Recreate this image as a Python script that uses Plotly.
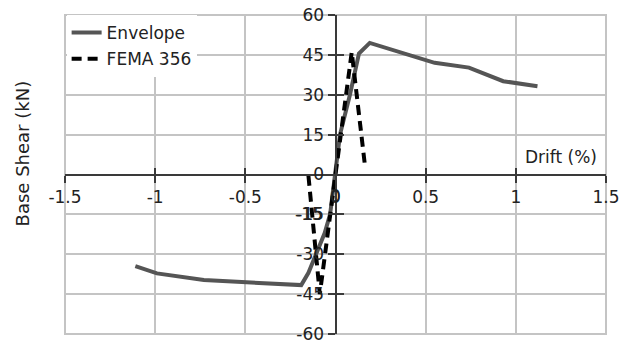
import plotly.graph_objects as go

# Data
env_x = [-1.11, -0.99, -0.73, -0.49, -0.30, -0.19, -0.15, -0.11, -0.06, -0.03, 0.0, 0.025, 0.08, 0.13, 0.19, 0.37, 0.55, 0.74, 0.93, 1.12]
env_y = [-34.5, -37.2, -39.7, -40.6, -41.0, -41.6, -37.0, -30.0, -22.0, -15.0, 0.0, 15.0, 30.0, 45.5, 49.5, 45.8, 42.0, 40.2, 35.1, 33.2]
fema_x = [-0.15, -0.087, 0.0, 0.09, 0.164]
fema_y = [-0.5, -45.0, 0.0, 46.0, 3.0]
x_ticks = [-1.5, -1, -0.5, 0, 0.5, 1, 1.5]
x_tick_labels = ["-1.5", "-1", "-0.5", "0", "0.5", "1", "1.5"]
y_ticks = [-60, -45, -30, -15, 0, 15, 30, 45, 60]
y_tick_labels = ["-60", "-45", "-30", "-15", "0", "15", "30", "45", "60"]

FONT = "DejaVu Sans, Arial, sans-serif"
GRID = "#c4c4c4"
AX = "#3a3a3a"
TXT = "#222222"

fig = go.Figure()
fig.add_trace(go.Scatter(x=env_x, y=env_y, mode="lines", name="Envelope",
                         line=dict(color="#555555", width=4), legendgroup="a"))
fig.add_trace(go.Scatter(x=fema_x, y=fema_y, mode="lines", name="FEMA 356",
                         line=dict(color="#000000", width=4, dash="10px,6px"), legendgroup="b"))
# invisible trace for overlay axes (inside ticks -> cross ticks)
fig.add_trace(go.Scatter(x=[0], y=[0], xaxis="x2", yaxis="y2", mode="markers",
                         marker=dict(opacity=0), showlegend=False, hoverinfo="skip"))

common_main = dict(showgrid=True, gridcolor=GRID, gridwidth=2, zeroline=False,
                   anchor="free", position=0.5, showline=True, linecolor=AX, linewidth=2,
                   ticks="outside", ticklen=7, tickwidth=2, tickcolor=AX,
                   ticklabeloverflow="allow", automargin=False,
                   tickfont=dict(size=17, color=TXT))
common_over = dict(anchor="free", position=0.5, showgrid=False, zeroline=False,
                   showline=False, ticks="inside", ticklen=7, tickwidth=2,
                   tickcolor=AX, showticklabels=False, automargin=False)

fig.update_layout(
    width=631, height=341,
    margin=dict(l=65, r=25, t=15, b=7, autoexpand=False),
    paper_bgcolor="white", plot_bgcolor="white",
    font=dict(family=FONT, size=17, color=TXT),
    showlegend=True,
    legend=dict(x=0.003, y=1.0, xanchor="left", yanchor="top",
                bgcolor="white", font=dict(size=17, color=TXT),
                traceorder="grouped", tracegroupgap=1),
    xaxis=dict(range=[-1.5, 1.5], tickvals=x_ticks, ticktext=x_tick_labels, **common_main),
    yaxis=dict(range=[-60, 60], tickvals=y_ticks, ticktext=y_tick_labels, **common_main),
    xaxis2=dict(range=[-1.5, 1.5], tickvals=x_ticks, overlaying="x", **common_over),
    yaxis2=dict(range=[-60, 60], tickvals=y_ticks, overlaying="y", **common_over),
    shapes=[dict(type="rect", xref="paper", yref="paper", x0=0, y0=0, x1=1, y1=1,
                 line=dict(color=GRID, width=2), layer="below")],
    annotations=[
        dict(text="Drift (%)", x=1.46, y=6.7, xref="x", yref="y", xanchor="right",
             yanchor="middle", showarrow=False, font=dict(size=17, color=TXT)),
        dict(text="Base Shear (kN)", x=-0.079, y=0.567, xref="paper", yref="paper",
             textangle=-90, xanchor="center", yanchor="middle", showarrow=False,
             font=dict(size=18, color=TXT)),
        # tick labels that plotly suppresses where the two axes cross
        dict(text=x_tick_labels[3], x=x_ticks[3], y=0, xref="x", yref="y",
             xanchor="center", yanchor="top", yshift=-9, showarrow=False,
             font=dict(size=17, color=TXT)),
        dict(text=y_tick_labels[3], x=0, y=y_ticks[3], xref="x", yref="y",
             xanchor="right", yanchor="middle", xshift=-11, showarrow=False,
             font=dict(size=17, color=TXT)),
    ],
)

fig.write_html("out.html")
